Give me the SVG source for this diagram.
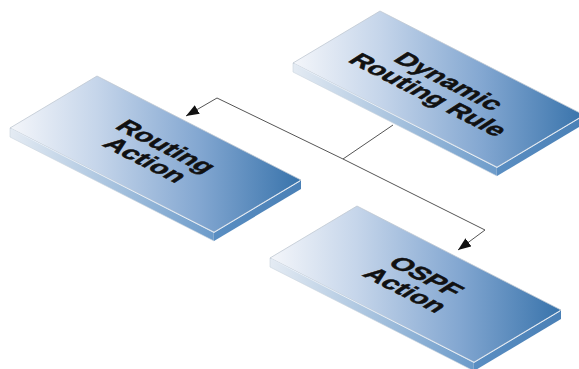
<svg xmlns="http://www.w3.org/2000/svg" width="579" height="369" viewBox="0 0 579 369">
  <defs>
    <linearGradient id="gTop" x1="0" y1="0" x2="1" y2="0">
      <stop offset="0" stop-color="#f4f6fa"/>
      <stop offset="0.3" stop-color="#c5d5ea"/>
      <stop offset="0.65" stop-color="#83a7d1"/>
      <stop offset="1" stop-color="#3873ab"/>
    </linearGradient>
    <linearGradient id="gLeft" x1="0" y1="0" x2="1" y2="0">
      <stop offset="0" stop-color="#e4ebf3"/>
      <stop offset="1" stop-color="#6c9bca"/>
    </linearGradient>
    <linearGradient id="gRight" x1="0" y1="0" x2="1" y2="0">
      <stop offset="0" stop-color="#5a8ec2"/>
      <stop offset="1" stop-color="#4a80b6"/>
    </linearGradient>
    <g id="slab">
      <path d="M0,0 L204,104 L204,113 L0,9 Z" fill="url(#gLeft)" stroke="#c9d3dd" stroke-width="0.6"/>
      <path d="M204,104 L291,52 L291,61 L204,113 Z" fill="url(#gRight)"/>
      <path d="M0,0 L87,-52 L291,52 L204,104 Z" fill="url(#gTop)" stroke="#bfc8d2" stroke-width="0.8"/>
      <path d="M1,1 L204,104.5 L290,53" fill="none" stroke="#e6eef7" stroke-width="1"/>
    </g>
    <marker id="arr" viewBox="0 0 13 10" refX="13" refY="5" markerWidth="13" markerHeight="10" markerUnits="userSpaceOnUse" orient="auto">
      <path d="M0,0 L13,5 L0,10 Z" fill="#111"/>
    </marker>
    <style>
      .lbl { font-family: "Liberation Sans", Arial, sans-serif; font-weight: bold; font-size: 20px; fill: #111; stroke: #111; stroke-width: 0.5; text-anchor: middle; }
      .conn { fill: none; stroke: #555; stroke-width: 1; }
    </style>
  </defs>

  <g id="connectors">
    <path class="conn" d="M393,125 L343,159"/>
    <path class="conn" d="M343,159 L217,98 L186,116" marker-end="url(#arr)"/>
    <path class="conn" d="M343,159 L485,230 L458,250" marker-end="url(#arr)"/>
  </g>

  <g id="dynamic-routing-rule">
    <use href="#slab" transform="translate(293,63)"/>
    <g transform="translate(439,88) matrix(1.2,0.612,-1.01,0.656,0,0)">
      <text class="lbl" x="0" y="-3.3">Dynamic</text>
      <text class="lbl" x="0" y="17.3">Routing Rule</text>
    </g>
  </g>

  <g id="routing-action">
    <use href="#slab" transform="translate(10,128)"/>
    <g transform="translate(156,153) matrix(1.2,0.612,-1.01,0.656,0,0)">
      <text class="lbl" x="0" y="-3.3">Routing</text>
      <text class="lbl" x="0" y="17.3">Action</text>
    </g>
  </g>

  <g id="ospf-action">
    <use href="#slab" transform="translate(270,258)"/>
    <g transform="translate(416,283) matrix(1.2,0.612,-1.01,0.656,0,0)">
      <text class="lbl" x="0" y="-3.3">OSPF</text>
      <text class="lbl" x="0" y="17.3">Action</text>
    </g>
  </g>
</svg>
